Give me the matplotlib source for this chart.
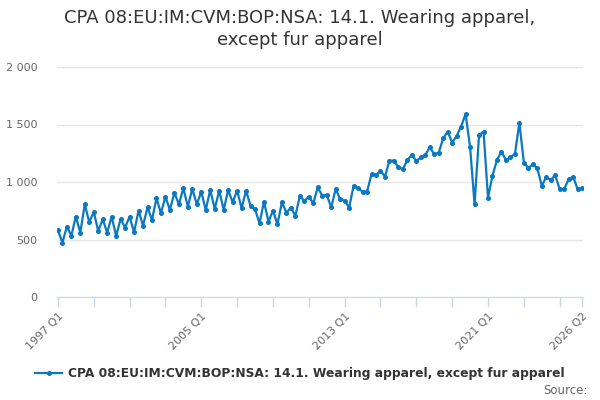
import matplotlib
matplotlib.use("Agg")
import matplotlib.pyplot as plt

# quarterly values, 1997 Q1 .. 2026 Q2
quarters = [f"{y} Q{q}" for y in range(1997, 2027) for q in range(1, 5)][:118]
values = [
    583, 473, 612, 533, 699, 560, 806, 650, 740, 574,
    676, 560, 699, 531, 679, 603, 699, 563, 751, 620,
    780, 670, 859, 728, 873, 757, 907, 806, 946, 786,
    940, 806, 916, 757, 931, 766, 925, 757, 931, 825,
    925, 772, 925, 792, 763, 641, 829, 655, 751, 632,
    824, 734, 777, 705, 879, 835, 873, 815, 954, 881,
    887, 780, 940, 850, 838, 777, 966, 946, 916, 916,
    1070, 1061, 1099, 1047, 1186, 1186, 1128, 1111, 1192, 1235,
    1183, 1215, 1235, 1302, 1241, 1256, 1380, 1438, 1343, 1400,
    1482, 1592, 1302, 806, 1409, 1438, 864, 1055, 1192, 1264,
    1189, 1215, 1244, 1514, 1169, 1122, 1154, 1119, 966, 1044,
    1018, 1059, 937, 940, 1024, 1047, 937, 951,
]
series_name = "CPA 08:EU:IM:CVM:BOP:NSA: 14.1. Wearing apparel, except fur apparel"
y_ticks = [0, 500, 1000, 1500, 2000]
label_quarters = ["1997 Q1", "2005 Q1", "2013 Q1", "2021 Q1", "2026 Q2"]

plt.rcParams["font.family"] = "DejaVu Sans"
fig = plt.figure(figsize=(6, 4), dpi=100)
ax = fig.add_axes([57 / 600, 103 / 400, 526 / 600, 230 / 400])

x = list(range(len(values)))
line, = ax.plot(x, values, color="#0a78c2", lw=1.6, marker="o", ms=2.6,
                label=series_name)

ax.set_xlim(-0.2, len(values) - 1 + 0.2)
ax.set_ylim(0, 2000)
ax.set_yticks(y_ticks)
ax.set_yticklabels([f"{v:,}".replace(",", " ") for v in y_ticks])
ax.grid(axis="y", color="#e6e6e6", lw=1)
ax.set_axisbelow(True)

tick_pos = list(range(0, len(values), 8)) + [len(values) - 1]
ax.set_xticks(tick_pos)
ax.set_xticklabels([quarters[i] if quarters[i] in label_quarters else "" for i in tick_pos],
                   rotation=45, ha="right", rotation_mode="anchor")

for s in ["top", "right", "left"]:
    ax.spines[s].set_visible(False)
ax.spines["bottom"].set_color("#ccd6eb")
ax.tick_params(axis="x", colors="#ccd6eb", length=7, width=1, labelcolor="#666666",
               labelsize=8, pad=3)
ax.tick_params(axis="y", length=0, labelcolor="#666666", labelsize=8, pad=14)

fig.text(0.5, 0.977, "CPA 08:EU:IM:CVM:BOP:NSA: 14.1. Wearing apparel,\nexcept fur apparel",
         ha="center", va="top", fontsize=13, color="#333333", linespacing=1.3)

fig.legend(handles=[line], loc="center", bbox_to_anchor=(0.5, 26 / 400), frameon=False,
           prop={"weight": "bold", "size": 8.8}, labelcolor="#333333",
           handlelength=2.2, handletextpad=0.5)
fig.text(588 / 600, 10 / 400, "Source:", ha="right", va="center", fontsize=8.5, color="#666666")

fig.savefig("out.png", dpi=100)
